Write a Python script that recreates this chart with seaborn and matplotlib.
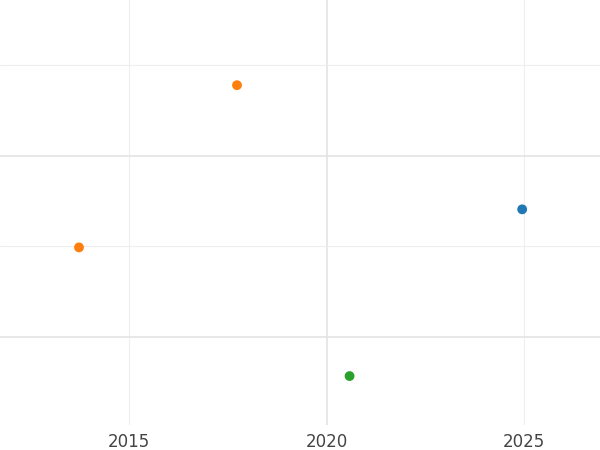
import matplotlib
matplotlib.use("Agg")
import matplotlib.pyplot as plt
import seaborn as sns
import pandas as pd
from matplotlib.ticker import MultipleLocator, FormatStrFormatter

years = [2024.95, 2017.73, 2013.73, 2020.58]
values = [1.41, 2.78, 0.99, -0.43]
groups = ["a", "b", "b", "c"]
palette = {"a": "#1f77b4", "b": "#ff7f0e", "c": "#2ca02c"}

df = pd.DataFrame({"year": years, "value": values, "group": groups})

sns.set_style("white")
fig = plt.figure(figsize=(6, 4.5), dpi=100)
ax = fig.add_axes([0, 25 / 450, 1, 425 / 450])

sns.scatterplot(data=df, x="year", y="value", hue="group", palette=palette,
                s=50, edgecolor="none", legend=False, ax=ax)

ax.set_xlim(2011.73, 2026.92)
ax.set_ylim(-0.97, 3.72)
# major x grid every 10 years, minor every 5 (all labelled)
ax.xaxis.set_major_locator(MultipleLocator(10))
ax.xaxis.set_minor_locator(MultipleLocator(5))
ax.xaxis.set_major_formatter(FormatStrFormatter("%d"))
ax.xaxis.set_minor_formatter(FormatStrFormatter("%d"))
ax.yaxis.set_major_locator(MultipleLocator(2))
ax.yaxis.set_minor_locator(MultipleLocator(1))
ax.grid(which="major", color="#e3e3e3", linewidth=1.2)
ax.grid(which="minor", color="#eeeeee", linewidth=0.8)
ax.set_axisbelow(True)
ax.tick_params(which="both", length=0, labelsize=12, labelcolor="#444444", pad=6)
ax.set_yticklabels([])
ax.set_yticklabels([], minor=True)
ax.set_xlabel("")
ax.set_ylabel("")
for s in ax.spines.values():
    s.set_visible(False)

fig.savefig("out.png", dpi=100)
